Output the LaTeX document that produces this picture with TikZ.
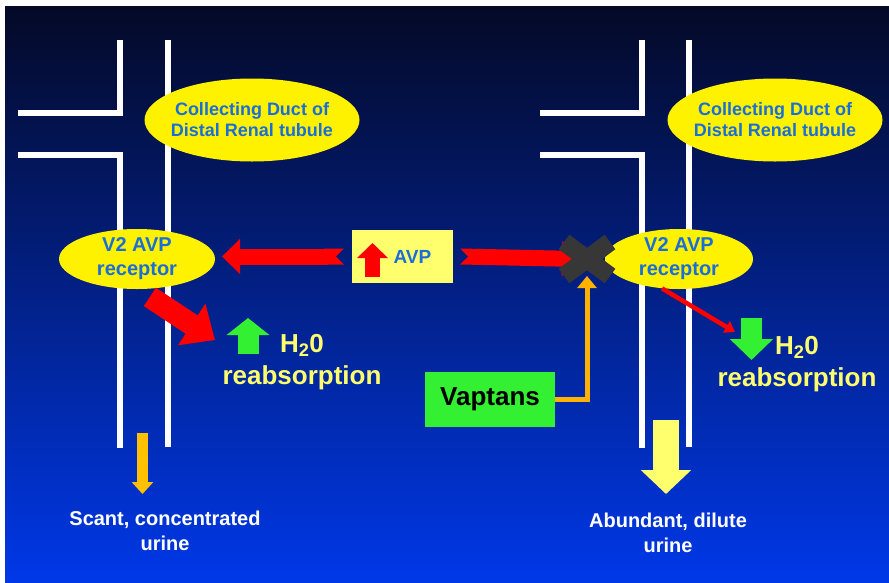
\documentclass[tikz,border=0pt]{standalone}
\usepackage{fontspec}
\setmainfont{Liberation Sans}
\usetikzlibrary{arrows.meta,calc,shapes.geometric,shapes.misc}

\definecolor{bgtop}{RGB}{4,9,38}
\definecolor{bgmid}{RGB}{6,38,150}
\definecolor{bgbot}{RGB}{0,56,232}
\definecolor{ductblue}{RGB}{26,110,216}
\definecolor{paleyellow}{RGB}{255,255,110}
\definecolor{vapgreen}{RGB}{51,240,51}
\definecolor{vaporange}{RGB}{255,178,0}
\definecolor{urineorange}{RGB}{255,192,0}
\definecolor{blockgray}{RGB}{55,55,55}

\begin{document}
\begin{tikzpicture}[x=1pt,y=-1pt,
  wall/.style={white,line width=6pt},
  ductoval/.style={ellipse,fill=yellow,text=ductblue,align=center,
    font=\bfseries\fontsize{18}{21}\selectfont,inner xsep=-5pt,inner ysep=0pt,
    minimum width=212pt,minimum height=83pt},
  recoval/.style={ellipse,fill=yellow,text=ductblue,align=center,
    font=\bfseries\fontsize{20}{24}\selectfont,inner sep=0pt,minimum height=60pt},
  bigred/.style={red,line width=16pt,{Triangle Cap[reversed]}-{Triangle[length=18pt,width=34pt]}},
  fatred/.style={red,line width=22pt,-{Triangle[length=28pt,width=48pt]}},
  thinred/.style={red,line width=4.5pt,-{Triangle[length=10pt,width=13pt]}},
  vapline/.style={vaporange,line width=5pt,line join=miter,-{Triangle[length=12pt,width=19pt]}},
  wateruptext/.style={text=paleyellow,align=center,font=\bfseries\fontsize{26}{32}\selectfont},
  urinetext/.style={text=white,align=center,font=\bfseries\fontsize{20}{25}\selectfont}]

  % slide background
  \useasboundingbox (0,0) rectangle (889,582);
  \fill[white] (0,0) rectangle (889,582);
  \shade[top color=bgtop,middle color=bgmid,bottom color=bgbot] (5,6) rectangle (889,582);

  % tubules
  \draw[wall] (120,40) -- (120,113) -- (18,113);
  \draw[wall] (18,155) -- (120,155) -- (120,448);
  \draw[wall] (168,40) -- (168,447);
  \draw[wall] (642,40) -- (642,113) -- (540,113);
  \draw[wall] (540,155) -- (642,155) -- (642,448);
  \draw[wall] (689,40) -- (689,447);

  % labels and boxes
  \node[ductoval] (ductL) at (252,120) {Collecting Duct of\\Distal Renal tubule};
  \node[ductoval] (ductR) at (775,120) {Collecting Duct of\\Distal Renal tubule};
  \node[fill=paleyellow,minimum width=101pt,minimum height=53pt] (avp) at (402.5,256.5) {};
  \node[text=ductblue,font=\bfseries\fontsize{19}{22}\selectfont] (avptxt) at ([xshift=10]avp.center) {AVP};
  \node[fill=vapgreen,minimum width=130pt,minimum height=55pt,
    font=\bfseries\fontsize{26}{30}\selectfont] (vap) at (490,399.5) {Vaptans};
  \coordinate (tipL) at (215,340);
  \coordinate (tipR) at (735,332);

  % AVP to the receptors
  \draw[bigred] ([xshift=-8]avp.west) -- (215+7,256.5);
  \draw[bigred] ([xshift=7]avp.east) -- (580,259);
  \draw[red,line width=15pt,-{Triangle[length=15pt,width=30pt]}] (372.5,277) -- (372.5,243);

  % receptors
  \node[recoval,minimum width=156pt] (recL) at (137,259) {V2 AVP\\receptor};
  \node[recoval,minimum width=148pt] (recR) at (679,259) {V2 AVP\\receptor};
  \node[cross out,draw=blockgray,line width=18pt,outer sep=0pt,
    minimum width=46pt,minimum height=34pt] (block) at (587,259) {};

  \draw[vapline] (vap.east) -| (block.south);
  \draw[fatred] ([shift={(2,8)}]recL.-70) -- (tipL);
  \draw[thinred] (recR.-120) -- (tipR);

  % water and urine
  \draw[vapgreen,line width=21pt,-{Triangle[length=17pt,width=42pt]}] (248,354) -- (248,318);
  \draw[vapgreen,line width=21pt,-{Triangle[length=21pt,width=42pt]}] (751.5,318) -- (751.5,360);
  \node[wateruptext] (waterL) at (302,362) {H\textsubscript{2}0\\reabsorption};
  \node[wateruptext] (waterR) at (797,364) {H\textsubscript{2}0\\reabsorption};
  \draw[urineorange,line width=11pt,-{Triangle[length=12pt,width=21pt]}] (142.5,433) -- (142.5,494);
  \draw[paleyellow,line width=26pt,-{Triangle[length=24pt,width=49pt]}] (666,420) -- (666,494);
  \node[urinetext] (urineL) at (165,531) {Scant, concentrated\\urine};
  \node[urinetext] (urineR) at (668,533) {Abundant, dilute\\urine};
\end{tikzpicture}
\end{document}
